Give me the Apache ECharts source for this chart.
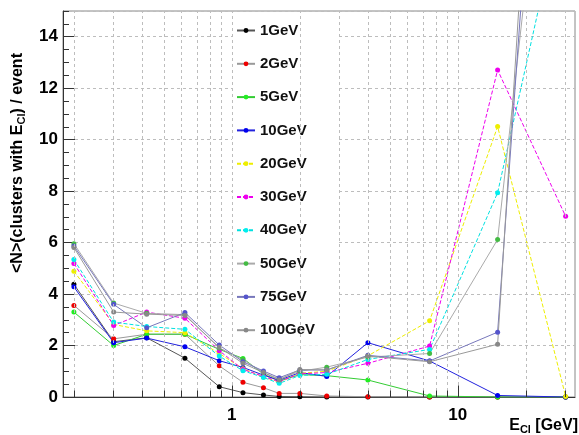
<!DOCTYPE html>
<html>
<head>
<meta charset="utf-8">
<script src="https://cdn.jsdelivr.net/npm/echarts@6/dist/echarts.min.js"></script>
<style>
html,body{margin:0;padding:0;background:#fff;}
#c{width:579px;height:435px;}
</style>
</head>
<body>
<div id="c"></div>
<script>
// ---- data ----
const xBins = [0.2, 0.3, 0.42, 0.62, 0.88, 1.12, 1.38, 1.62, 2.0, 2.63, 4.0, 7.5, 15, 30];
const seriesNames = ['1GeV','2GeV','5GeV','10GeV','20GeV','30GeV','40GeV','50GeV','75GeV','100GeV'];
const v1GeV   = [4.38, 2.15, 2.30, 1.51, 0.40, 0.17, 0.08, 0.02, 0.01, 0, 0, 0, 0, 0];
const v2GeV   = [3.56, 2.26, 2.44, 2.44, 1.21, 0.57, 0.36, 0.14, 0.14, 0.04, 0.01, 0, 0, 0];
const v5GeV   = [3.30, 2.00, 2.44, 2.44, 1.85, 1.50, 0.89, 0.62, 0.87, 0.83, 0.66, 0.04, 0, 0];
const v10GeV  = [4.28, 2.11, 2.29, 1.95, 1.41, 1.15, 0.85, 0.65, 0.95, 0.80, 2.11, 1.40, 0.06, 0];
const v20GeV  = [4.89, 2.82, 2.57, 2.50, 1.69, 1.10, 0.78, 0.58, 0.92, 1.00, 1.60, 2.96, 10.51, 0.02];
const v30GeV  = [5.19, 2.78, 3.30, 3.06, 1.80, 1.07, 0.80, 0.60, 0.90, 0.95, 1.31, 1.98, 12.71, 7.02];
const v40GeV  = [5.34, 2.91, 2.74, 2.63, 1.59, 1.02, 0.76, 0.53, 0.84, 0.88, 1.46, 1.85, 7.94, 19.8];
const v50GeV  = [5.96, 3.65, 3.25, 3.20, 1.90, 1.45, 0.95, 0.70, 1.00, 1.16, 1.55, 1.69, 6.12, 30];
const v75GeV  = [5.87, 3.60, 2.69, 3.28, 2.02, 1.37, 1.01, 0.75, 1.05, 1.05, 1.62, 1.40, 2.52, 39.5];
const v100GeV = [5.81, 3.30, 3.22, 3.17, 1.93, 1.31, 0.95, 0.66, 1.07, 1.05, 1.59, 1.37, 2.05, 44];
const yTickLabels = [0, 2, 4, 6, 8, 10, 12, 14];
const xGridValues = [0.2,0.3,0.4,0.5,0.6,0.7,0.8,0.9,1,2,3,4,5,6,7,8,9,10,20,30];
const xMajorTicks = [1, 10];

const allValues = [v1GeV, v2GeV, v5GeV, v10GeV, v20GeV, v30GeV, v40GeV, v50GeV, v75GeV, v100GeV];
const styles = [
  {marker:'#000000', line:'#555555', type:'solid'},
  {marker:'#ee0000', line:'#999999', type:'solid'},
  {marker:'#22ee22', line:'#33cc33', type:'solid'},
  {marker:'#0000ee', line:'#2222dd', type:'solid'},
  {marker:'#eeee00', line:'#eeee00', type:[4,2]},
  {marker:'#ee00ee', line:'#ee00ee', type:[4,2]},
  {marker:'#00eeee', line:'#00e0e0', type:[4,2]},
  {marker:'#44bb44', line:'#aaaaaa', type:'solid'},
  {marker:'#5555cc', line:'#7777bb', type:'solid'},
  {marker:'#888888', line:'#999999', type:'solid'}
];

const chart = echarts.init(document.getElementById('c'), null, {renderer:'canvas'});

const dataSeries = seriesNames.map((n, i) => ({
  name: n,
  type: 'line',
  z: 3,
  data: xBins.map((x, k) => [x, allValues[i][k]]),
  symbol: 'circle',
  symbolSize: 5,
  showSymbol: true,
  clip: true,
  itemStyle: {color: styles[i].marker},
  lineStyle: {color: styles[i].line, width: 1, type: styles[i].type},
  emphasis: {disabled: true}
}));

const helper = {
  name: '_grid',
  type: 'line',
  z: 1,
  data: [],
  silent: true,
  markLine: {
    silent: true,
    symbol: ['none','none'],
    label: {show: false},
    animation: false,
    lineStyle: {color: '#bdbdbd', width: 1, type: [3,3]},
    data: xGridValues.map(v => ({xAxis: v}))
  }
};
const tickHelper = {
  name: '_ticks',
  type: 'line',
  z: 2,
  data: [],
  silent: true,
  markLine: {
    silent: true,
    symbol: ['none','none'],
    label: {show: false},
    animation: false,
    lineStyle: {color: '#333', width: 1, type: 'solid'},
    data: xGridValues.map(v => [{coord: [v, 0]}, {coord: [v, xMajorTicks.indexOf(v) >= 0 ? 0.45 : 0.25]}])
  }
};

chart.setOption({
  animation: false,
  backgroundColor: '#fff',
  grid: {left: 63, right: 4, top: 11, bottom: 38, show: true, borderColor: '#888', borderWidth: 1, backgroundColor: 'transparent'},
  xAxis: {
    type: 'log',
    logBase: 10,
    min: 0.179,
    max: 33,
    axisLine: {show: true, onZero: false, lineStyle: {color: '#333'}},
    axisTick: {show: false},
    splitLine: {show: false},
    axisLabel: {
      showMinLabel: false, showMaxLabel: false,
      color: '#000', fontFamily: 'Liberation Sans, Arial, sans-serif', fontWeight: 'bold', fontSize: 17, margin: 10,
      formatter: v => (v === 1 || v === 10) ? String(v) : ''
    }
  },
  yAxis: [{
    type: 'value', min: 0, max: 15, interval: 2, position: 'left',
    axisLine: {show: true, onZero: false, lineStyle: {color: '#333'}},
    axisTick: {show: true, inside: true, length: 12, lineStyle: {color: '#333'}},
    splitLine: {show: true, lineStyle: {color: '#bdbdbd', type: [3,3]}},
    axisLabel: {showMaxLabel: false, color: '#000', fontFamily: 'Liberation Sans, Arial, sans-serif', fontWeight: 'bold', fontSize: 17, margin: 5,
      formatter: v => yTickLabels.indexOf(v) >= 0 ? String(v) : ''}
  }, {
    type: 'value', min: 0, max: 15, interval: 0.5, position: 'left', offset: 0,
    axisLine: {show: false},
    axisTick: {show: true, inside: true, length: 6, lineStyle: {color: '#333'}},
    splitLine: {show: false},
    axisLabel: {show: false}
  }],
  legend: {
    orient: 'vertical',
    left: 232, top: 12,
    padding: [11, 22, 8, 4],
    backgroundColor: '#fff',
    itemWidth: 18, itemHeight: 6, itemGap: 18.3,
    data: seriesNames,
    selectedMode: false,
    textStyle: {color: '#111', fontFamily: 'Liberation Sans, Arial, sans-serif', fontWeight: 'bold', fontSize: 15}
  },
  graphic: [
    {
      type: 'text', x: 18, y: 163, rotation: Math.PI / 2, z: 10,
      style: {
        text: '{b|<N>(clusters with E}{s|Cl}{b|) / event}',
        align: 'center', verticalAlign: 'middle',
        rich: {
          b: {fontFamily: 'Liberation Sans, Arial, sans-serif', fontWeight: 'bold', fontSize: 16, fill: '#000', lineHeight: 22},
          s: {fontFamily: 'Liberation Sans, Arial, sans-serif', fontWeight: 'bold', fontSize: 11, fill: '#000', lineHeight: 22, padding: [8,0,0,0]}
        }
      }
    },
    {
      type: 'text', x: 578, y: 426, z: 10,
      style: {
        text: '{b|E}{s|Cl}{b| [GeV]}',
        align: 'right', verticalAlign: 'middle',
        rich: {
          b: {fontFamily: 'Liberation Sans, Arial, sans-serif', fontWeight: 'bold', fontSize: 16, fill: '#000', lineHeight: 22},
          s: {fontFamily: 'Liberation Sans, Arial, sans-serif', fontWeight: 'bold', fontSize: 11, fill: '#000', lineHeight: 22, padding: [8,0,0,0]}
        }
      }
    }
  ],
  series: [helper, tickHelper].concat(dataSeries)
});
</script>
</body>
</html>
